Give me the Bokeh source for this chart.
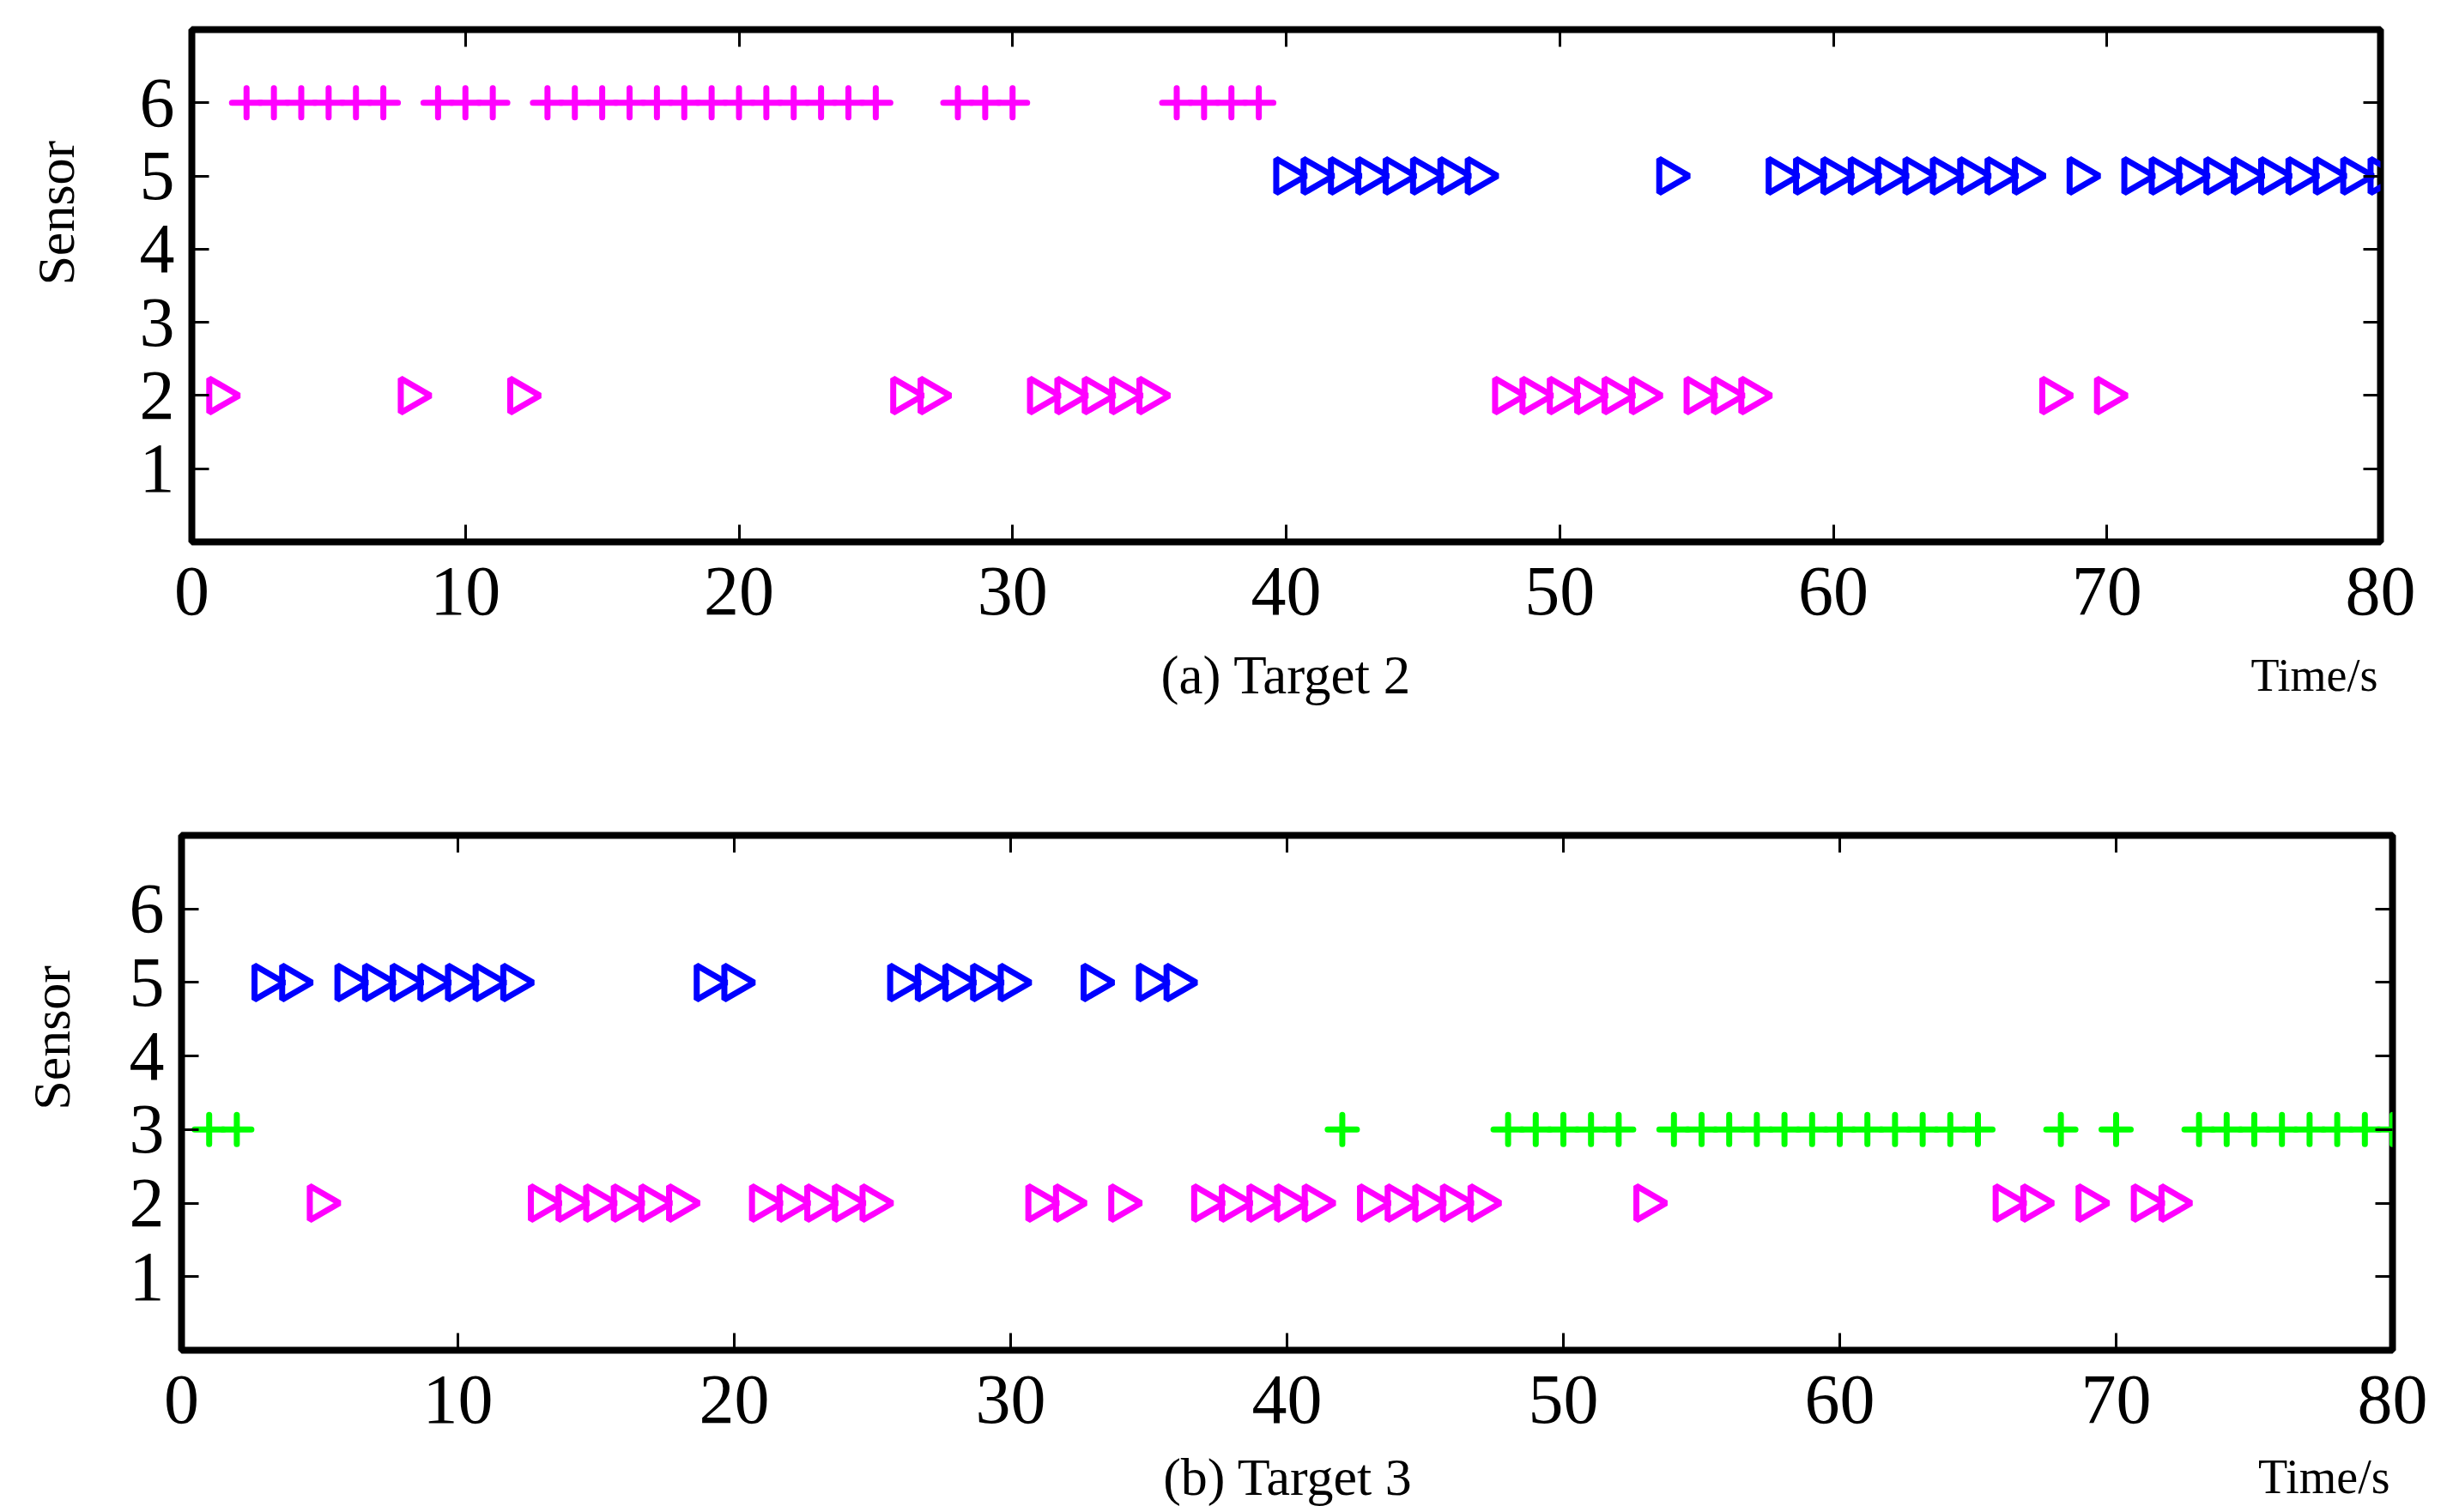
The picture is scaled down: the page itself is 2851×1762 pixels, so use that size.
import math
from bokeh.plotting import figure
from bokeh.layouts import column, row
from bokeh.models import FixedTicker, LinearAxis, Range1d, ColumnDataSource
from bokeh.core.properties import value
from bokeh.embed import file_html
from bokeh.resources import INLINE

SERIF = "Liberation Serif"
MAGENTA = "#FF00FF"
BLUE = "#0000FF"
GREEN = "#00FF00"

x_ticks = [0, 10, 20, 30, 40, 50, 60, 70, 80]
y_ticks = [1, 2, 3, 4, 5, 6]

# (a) Target 2
t2_sensor6_plus = [2, 3, 4, 5, 6, 7, 9, 10, 11, 13, 14, 15, 16, 17, 18, 19, 20, 21, 22, 23, 24, 25,
                   28, 29, 30, 36, 37, 38, 39]
t2_sensor5_tri = [40, 41, 42, 43, 44, 45, 46, 47, 54, 58, 59, 60, 61, 62, 63, 64, 65, 66, 67, 69,
                  71, 72, 73, 74, 75, 76, 77, 78, 79, 80]
t2_sensor2_tri = [1, 8, 12, 26, 27, 31, 32, 33, 34, 35, 48, 49, 50, 51, 52, 53, 55, 56, 57, 68, 70]

# (b) Target 3
t3_sensor5_tri = [3, 4, 6, 7, 8, 9, 10, 11, 12, 19, 20, 26, 27, 28, 29, 30, 33, 35, 36]
t3_sensor3_plus = [1, 2, 42, 48, 49, 50, 51, 52, 54, 55, 56, 57, 58, 59, 60, 61, 62, 63, 64, 65,
                   68, 70, 73, 74, 75, 76, 77, 78, 79, 80]
t3_sensor2_tri = [5, 13, 14, 15, 16, 17, 18, 21, 22, 23, 24, 25, 31, 32, 34, 37, 38, 39, 40, 41,
                  43, 44, 45, 46, 47, 53, 66, 67, 69, 71, 72]

PAGE_W = 2835
STRIP_W = 135
BOTTOM_BORDER = 112


def style_axis(ax, ticks, show_labels, standoff):
    ax.ticker = FixedTicker(ticks=ticks)
    ax.axis_line_color = None
    ax.major_tick_in = 20
    ax.major_tick_out = 0
    ax.major_tick_line_width = 3
    ax.major_tick_line_color = "black"
    ax.minor_tick_line_color = None
    ax.major_label_text_font = SERIF
    ax.major_label_standoff = standoff
    if show_labels:
        ax.major_label_text_font_size = "82px"
        ax.major_label_text_color = "black"
    else:
        ax.major_label_text_font_size = "1px"
        ax.major_label_text_color = None


def make_fig(frame_left, fw, frame_right, top, fh):
    p = figure(frame_width=fw, frame_height=fh, title=None,
               x_range=Range1d(0, 80), y_range=Range1d(0, 7),
               min_border_left=frame_left - STRIP_W, min_border_right=PAGE_W - frame_right,
               min_border_top=top, min_border_bottom=BOTTOM_BORDER,
               output_backend="svg", toolbar_location=None)
    p.grid.visible = False
    p.outline_line_color = "black"
    p.outline_line_width = 8
    p.background_fill_color = "white"
    p.border_fill_color = "white"
    style_axis(p.xaxis[0], x_ticks, True, 30)
    style_axis(p.yaxis[0], y_ticks, True, 20)
    ra = LinearAxis()
    style_axis(ra, y_ticks, False, 0)
    p.add_layout(ra, "right")
    ta = LinearAxis()
    style_axis(ta, x_ticks, False, 0)
    p.add_layout(ta, "above")
    return p


def blank(width, height):
    p = figure(width=width, height=height, title=None,
               x_range=Range1d(0, width), y_range=Range1d(0, height),
               min_border_left=0, min_border_right=0, min_border_top=0,
               min_border_bottom=0, x_axis_type=None, y_axis_type=None,
               output_backend="svg", toolbar_location=None)
    p.outline_line_color = None
    p.grid.visible = False
    p.background_fill_color = "white"
    p.border_fill_color = "white"
    return p


def sensor_strip(height, sx, sy):
    s = blank(STRIP_W, height)
    s.text(x=[sx], y=[sy], text=["Sensor"], angle=math.pi / 2, text_align="center",
           text_baseline="middle", text_font=value(SERIF), text_font_size=value("62px"),
           text_color="black")
    return s


def caption_strip(height, caption, cap_x, cap_size, time_right, time_size, base_y):
    c = blank(PAGE_W, height)
    c.text(x=[cap_x], y=[base_y], text=[caption], text_align="center",
           text_baseline="alphabetic", text_font=value(SERIF),
           text_font_size=value(cap_size), text_color="black")
    c.text(x=[time_right], y=[base_y], text=["Time/s"], text_align="right",
           text_baseline="alphabetic", text_font=value(SERIF),
           text_font_size=value(time_size), text_color="black")
    return c


def add_tri(p, xs, yv, color):
    src = ColumnDataSource(dict(x=xs, y=[yv] * len(xs)))
    p.scatter("x", "y", source=src, marker="triangle", angle=-math.pi / 2, size=40,
              line_color=color, line_width=7, fill_color=None)


def add_plus(p, xs, yv, color):
    src = ColumnDataSource(dict(x=xs, y=[yv] * len(xs)))
    p.scatter("x", "y", source=src, marker="cross", size=34,
              line_color=color, line_width=7, line_cap="round")


# ---- panel (a): rows 0..743, caption 743..866 ----
H1 = 34 + 597 + BOTTOM_BORDER
p1 = make_fig(223, 2550, 2773, 34, 597)
add_plus(p1, t2_sensor6_plus, 6, MAGENTA)
add_tri(p1, t2_sensor5_tri, 5, BLUE)
add_tri(p1, t2_sensor2_tri, 2, MAGENTA)
sA = sensor_strip(H1, 64, H1 - 266)
CAP1 = 866 - H1
capA = caption_strip(CAP1, "(a) Target 2", 1498, "63px", 2770, "54px", CAP1 - (808 - H1) + 22)

# ---- panel (b): rows 866..1685, caption 1685..1762 ----
H2 = 107 + 600 + BOTTOM_BORDER
p2 = make_fig(211, 2576, 2787, 107, 600)
add_tri(p2, t3_sensor5_tri, 5, BLUE)
add_plus(p2, t3_sensor3_plus, 3, GREEN)
add_tri(p2, t3_sensor2_tri, 2, MAGENTA)
sB = sensor_strip(H2, 59, H2 - (1188 - 866))
CAP2 = 1762 - 866 - H2
capB = caption_strip(CAP2, "(b) Target 3", 1500, "62px", 2784, "56px",
                     CAP2 - (1742 - 866 - H2) + 22)

layout = column(row(sA, p1, spacing=0), capA, row(sB, p2, spacing=0), capB, spacing=0)
open("out.html", "w").write(file_html(layout, INLINE))
